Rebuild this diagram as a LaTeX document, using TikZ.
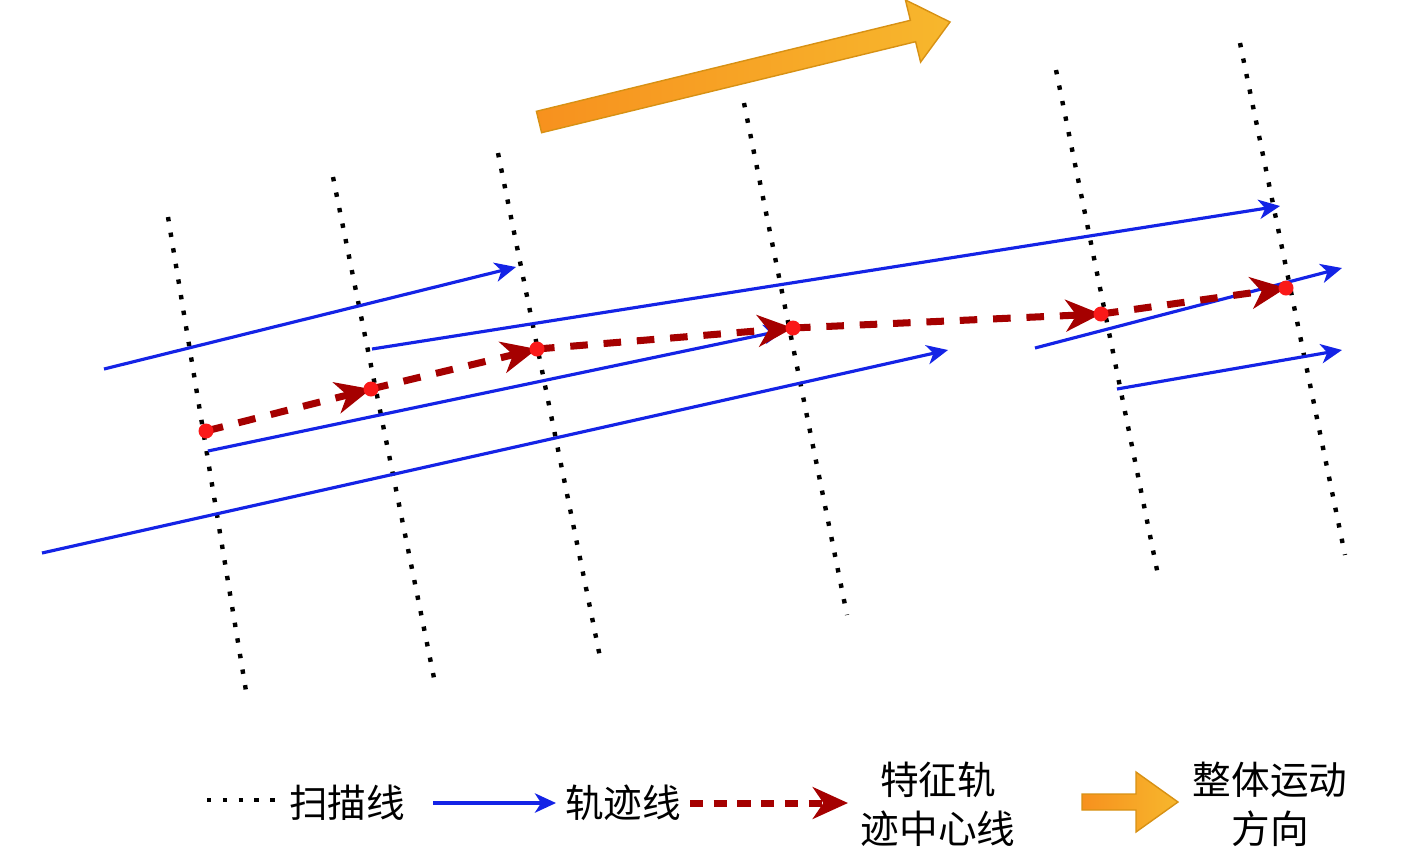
\documentclass[tikz,border=0pt]{standalone}
\usepackage{fontspec}
\newfontfamily\cjk{Noto Sans CJK SC}
\usetikzlibrary{arrows.meta}
\definecolor{trackblue}{RGB}{20,35,230}
\definecolor{centerred}{RGB}{165,0,0}
\definecolor{dotred}{RGB}{250,25,25}
\definecolor{orangeL}{RGB}{247,145,30}
\definecolor{orangeR}{RGB}{247,183,45}
\definecolor{orangeB}{RGB}{215,145,20}
\tikzset{
  scanline/.style={line width=2.5pt, dash pattern=on 2.5pt off 6.5pt, black},
  trackline/.style={line width=1.8pt, trackblue, -{Stealth[length=12pt,width=11pt,inset=3.5pt]}},
  centerline/.style={line width=4pt, centerred, dash pattern=on 10pt off 9pt, -{Stealth[length=20pt,width=18pt,inset=6pt]}},
  reddot/.style={fill=dotred, draw=none},
  bigarrow/.style={left color=orangeL, right color=orangeR, draw=orangeB, line width=0.8pt},
  legendtext/.style={font=\cjk\fontsize{22pt}{28pt}\selectfont, inner sep=0pt, align=center}
}
\begin{document}
\begin{tikzpicture}[x=0.02cm,y=-0.02cm]
\useasboundingbox (0,0) rectangle (1417,850);
% scan lines
\coordinate (s1a) at (168,217); \coordinate (s1b) at (247,697);
\coordinate (s2a) at (333,177); \coordinate (s2b) at (434,678);
\coordinate (s3a) at (498,153); \coordinate (s3b) at (600,657);
\coordinate (s4a) at (744,103); \coordinate (s4b) at (847,615);
\coordinate (s5a) at (1056,70); \coordinate (s5b) at (1158,575);
\coordinate (s6a) at (1240,43); \coordinate (s6b) at (1345,555);
\foreach \i in {1,...,6} \draw[scanline] (s\i a) -- (s\i b);
% track lines
\coordinate (ta1) at (104,369); \coordinate (ta2) at (516,267);
\coordinate (tb1) at (372,349); \coordinate (tb2) at (1280,206);
\coordinate (tc1) at (208,451); \coordinate (tc2) at (785,330);
\coordinate (td1) at (42,553);  \coordinate (td2) at (948,350);
\coordinate (te1) at (1035,348); \coordinate (te2) at (1342,268);
\coordinate (tf1) at (1117,389); \coordinate (tf2) at (1342,350);
\foreach \t in {a,b,c,d,e,f} \draw[trackline] (t\t1) -- (t\t2);
% center line
\coordinate (c1) at (206,431);
\coordinate (c2) at (371,389);
\coordinate (c3) at (537,349);
\coordinate (c4) at (793,328);
\coordinate (c5) at (1101,314);
\coordinate (c6) at (1286,288);
\draw[centerline] (c1) -- (c2);
\draw[centerline] (c2) -- (c3);
\draw[centerline] (c3) -- (c4);
\draw[centerline] (c4) -- (c5);
\draw[centerline] (c5) -- (c6);
\foreach \i in {1,...,6} \fill[reddot] (c\i) circle (7.5);
% overall motion arrow
\shade[bigarrow] (536.4,111.3) -- (910.4,20.3) -- (905.4,-0.1) -- (950,22) -- (920.6,62.1) -- (915.6,41.7) -- (541.6,132.7) -- cycle;
% legend
\coordinate (l1a) at (207,800); \coordinate (l1b) at (280,800);
\draw[scanline] (l1a) -- (l1b);
\node[legendtext] (t1) at (347,803) {扫描线};
\coordinate (l2a) at (433,803); \coordinate (l2b) at (556,803);
\draw[trackline] (l2a) -- (l2b);
\node[legendtext] (t2) at (623,803) {轨迹线};
\coordinate (l3a) at (690,803); \coordinate (l3b) at (848,803);
\draw[centerline, dash pattern=on 7.5pt off 6pt] (l3a) -- (l3b);
\node[legendtext] (t3) at (938,804) {特征轨\\迹中心线};
\shade[bigarrow] (1082,794) -- (1136,794) -- (1136,772) -- (1178,802) -- (1136,832) -- (1136,810) -- (1082,810) -- cycle;
\node[legendtext] (t4) at (1270,804) {整体运动\\方向};
\end{tikzpicture}
\end{document}
